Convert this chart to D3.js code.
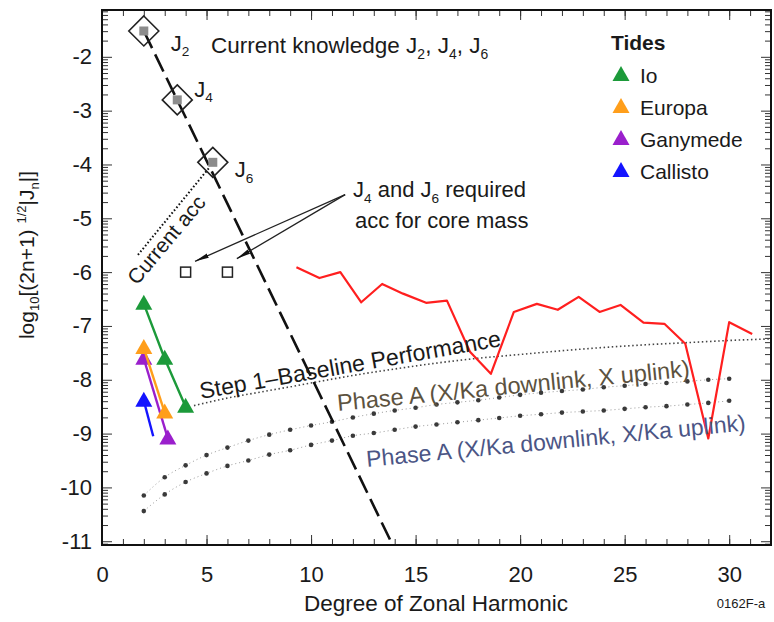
<!DOCTYPE html>
<html>
<head>
<meta charset="utf-8">
<script src="https://cdn.jsdelivr.net/npm/d3@7"></script>
<style>
  html, body { margin: 0; padding: 0; background: #fff; }
  svg { display: block; }
  text { font-family: "Liberation Sans", Arial, sans-serif; fill: #1a1a1a; }
</style>
</head>
<body>
<svg id="chart" width="774" height="622"></svg>
<script>
// ---- data -------------------------------------------------------------
const xTicks = [0, 5, 10, 15, 20, 25, 30];
const yTicks = [-2, -3, -4, -5, -6, -7, -8, -9, -10, -11];

// current knowledge of the low zonal harmonics
const jLabels = ["2", "4", "6"];
const jDegree = [2, 3.6, 5.3];
const jValue = [-1.52, -2.8, -3.96];

// J4, J6 accuracy required for the core mass
const reqDegree = [4, 6];
const reqValue = [-6, -6];

// Jupiter zonal spectrum trend (dashed) and current accuracy (dotted)
const trendDegree = [2, 13.9];
const trendValue = [-1.52, -11.07];
const accDegree = [1.72, 5.17];
const accValue = [-5.68, -4.04];

// tidal signatures
const tideMoons = ["Io", "Europa", "Ganymede", "Callisto"];
const tideColors = ["#1c9a3a", "#ff9e1b", "#9a1fcc", "#1414ff"];
const ioDegree = [2, 3, 4];
const ioValue = [-6.59, -7.61, -8.5];
const europaDegree = [2, 3];
const europaValue = [-7.41, -8.61];
const ganymedeDegree = [2, 3.15];
const ganymedeValue = [-7.61, -9.09];
const callistoDegree = [2, 2.45];
const callistoValue = [-8.39, -9.05];
const callistoMarked = [true, false];

// Step 1 baseline performance
const baseDegree = [4.4, 6, 8, 10, 12, 14, 16, 18, 20, 22, 24, 26, 28, 30, 32];
const baseValue = [-8.48, -8.34, -8.2, -8.06, -7.92, -7.8, -7.69, -7.6, -7.53, -7.46, -7.4, -7.35, -7.31, -7.27, -7.24];

// Phase A sensitivities, degrees 2..30
const phaseDegree = d3.range(2, 31);
const phaseXValue = [-10.15, -9.81, -9.59, -9.4, -9.26, -9.13, -9.02, -8.93, -8.85, -8.78, -8.7, -8.63, -8.57, -8.52,
  -8.46, -8.42, -8.38, -8.33, -8.28, -8.24, -8.21, -8.18, -8.14, -8.11, -8.08, -8.06, -8.03, -8.0, -7.98];
const phaseKaValue = [-10.44, -10.13, -9.9, -9.74, -9.6, -9.5, -9.39, -9.31, -9.21, -9.13, -9.04, -8.99, -8.93, -8.87,
  -8.83, -8.79, -8.75, -8.71, -8.67, -8.64, -8.61, -8.59, -8.57, -8.54, -8.51, -8.49, -8.46, -8.43, -8.39];

// observed spectrum (red)
const obsDegree = [9.3, 10.4, 11.4, 12.4, 13.4, 14.4, 15.5, 16.5, 17.6, 18.6, 19.7, 20.8, 21.8, 22.8, 23.8, 24.8, 25.9, 26.9, 27.9, 29.0, 30.0, 31.1];
const obsValue = [-5.91, -6.11, -6.0, -6.56, -6.22, -6.4, -6.57, -6.53, -7.48, -7.89, -6.74, -6.59, -6.7, -6.46, -6.74, -6.61, -6.94, -6.96, -7.33, -9.09, -6.93, -7.15];

// ---- layout -------------------------------------------------------------
const svg = d3.select("#chart");
const pLeft = 102, pRight = 771, pTop = 10, pBottom = 545;
const x = d3.scaleLinear().domain([0, 32]).range([pLeft, pRight]);
const y = d3.scaleLinear().domain([-11.07, -1.13]).range([pBottom, pTop]);
const zip = (a, b) => a.map((v, i) => [v, b[i]]);
const line = d3.line().x(d => x(d[0])).y(d => y(d[1]));
const curve = d3.line().x(d => x(d[0])).y(d => y(d[1])).curve(d3.curveMonotoneX);

const defs = svg.append("defs");
defs.append("clipPath").attr("id", "plot")
  .append("rect").attr("x", pLeft).attr("y", pTop).attr("width", pRight - pLeft).attr("height", pBottom - pTop);

defs.append("marker")
  .attr("id", "arrow").attr("viewBox", "0 0 14 6").attr("refX", 14).attr("refY", 3)
  .attr("markerWidth", 14).attr("markerHeight", 6).attr("markerUnits", "userSpaceOnUse")
  .attr("orient", "auto")
  .append("path").attr("d", "M0,0.6 L14,3 L0,5.4 Z").attr("fill", "#111");

// ---- axes ---------------------------------------------------------------
const xMinor = d3.range(0, 33);
const yMinor = [];
for (let n = -12; n <= -1; n++) for (let k = 2; k <= 9; k++) {
  const v = n + Math.log10(k);
  if (v > -11.07 && v < -1.13) yMinor.push(v);
}

const axes = svg.append("g");
axes.append("g").attr("transform", `translate(0,${pBottom})`)
  .call(d3.axisBottom(x).tickValues(xTicks).tickSize(-10).tickPadding(21).tickFormat(d3.format("d")));
axes.append("g").attr("transform", `translate(0,${pBottom})`)
  .call(d3.axisBottom(x).tickValues(xMinor).tickSize(-6).tickFormat(""));
axes.append("g").attr("transform", `translate(0,${pTop})`)
  .call(d3.axisTop(x).tickValues(xTicks).tickSize(-10).tickFormat(""));
axes.append("g").attr("transform", `translate(0,${pTop})`)
  .call(d3.axisTop(x).tickValues(xMinor).tickSize(-6).tickFormat(""));
const yLeft = axes.append("g").attr("transform", `translate(${pLeft},0)`)
  .call(d3.axisLeft(y).tickValues(yTicks).tickSize(-10).tickPadding(10).tickFormat(d => d));
axes.append("g").attr("transform", `translate(${pLeft},0)`)
  .call(d3.axisLeft(y).tickValues(yMinor).tickSize(-6).tickFormat(""));
axes.append("g").attr("transform", `translate(${pRight},0)`)
  .call(d3.axisRight(y).tickValues(yTicks).tickSize(-10).tickFormat(""));
axes.append("g").attr("transform", `translate(${pRight},0)`)
  .call(d3.axisRight(y).tickValues(yMinor).tickSize(-6).tickFormat(""));

axes.selectAll(".domain").remove();
axes.selectAll(".tick line").attr("stroke", "#333").attr("stroke-width", 1);
axes.selectAll(".tick text").attr("font-size", 22).attr("fill", "#1a1a1a")
  .attr("font-family", "Liberation Sans, Arial, sans-serif");
yLeft.selectAll(".tick text").text(d => "-" + Math.abs(d));

svg.append("rect").attr("x", pLeft).attr("y", pTop).attr("width", pRight - pLeft).attr("height", pBottom - pTop)
  .attr("fill", "none").attr("stroke", "#111").attr("stroke-width", 2);

// ---- text helper: plain runs and subscripts / superscripts -----------------
function richText(sel, parts, size) {
  let shift = 0;
  parts.forEach(p => {
    const ts = sel.append("tspan");
    let target = 0, fs = size;
    if (p.sub !== undefined) { target = size * 0.25; fs = size * 0.62; ts.text(p.sub); }
    else if (p.sup !== undefined) { target = -size * 0.4; fs = size * 0.62; ts.text(p.sup); }
    else ts.text(p.t);
    ts.attr("font-size", fs);
    if (target !== shift) ts.attr("dy", target - shift);
    shift = target;
  });
  return sel;
}

// axis titles
svg.append("text").attr("x", 436).attr("y", 611).attr("text-anchor", "middle").attr("font-size", 22.5)
  .text("Degree of Zonal Harmonic");
svg.append("text").attr("x", 741).attr("y", 608).attr("text-anchor", "middle").attr("font-size", 13)
  .text("0162F-a");

richText(svg.append("text").attr("transform", "translate(34,255) rotate(-90)").attr("text-anchor", "middle"),
  [{ t: "log" }, { sub: "10" }, { t: "[(2n+1) " }, { sup: "1/2" }, { t: "|J" }, { sub: "n" }, { t: "|]" }], 21);

// ---- plot contents --------------------------------------------------------
const plot = svg.append("g").attr("clip-path", "url(#plot)");

// Phase A curves: faint connecting line plus dots at each degree
[phaseXValue, phaseKaValue].forEach(vals => {
  const pts = zip(phaseDegree, vals);
  plot.append("path").attr("d", curve(pts)).attr("fill", "none")
    .attr("stroke", "#9a9a9a").attr("stroke-width", 1).attr("stroke-dasharray", "1,3");
  plot.append("g").selectAll("circle").data(pts).join("circle")
    .attr("cx", d => x(d[0])).attr("cy", d => y(d[1])).attr("r", 2.3).attr("fill", "#3a3a3a");
});

// Step 1 baseline
plot.append("path").attr("d", curve(zip(baseDegree, baseValue))).attr("fill", "none")
  .attr("stroke", "#444").attr("stroke-width", 1.6).attr("stroke-dasharray", "1.5,2.6");

// observed spectrum
plot.append("path").attr("d", line(zip(obsDegree, obsValue))).attr("fill", "none")
  .attr("stroke", "#ff1f1f").attr("stroke-width", 2.2).attr("stroke-linejoin", "round");

// current accuracy (dotted)
plot.append("path").attr("d", line(zip(accDegree, accValue))).attr("fill", "none")
  .attr("stroke", "#111").attr("stroke-width", 2).attr("stroke-dasharray", "1.6,2.2");

// dashed trend through J2, J4, J6
plot.append("path").attr("d", line(zip(trendDegree, trendValue))).attr("fill", "none")
  .attr("stroke", "#111").attr("stroke-width", 2.6).attr("stroke-dasharray", "19,7");

// J markers: open diamond with grey core
const jG = plot.append("g").selectAll("g").data(zip(jDegree, jValue)).join("g")
  .attr("transform", d => `translate(${x(d[0])},${y(d[1])})`);
jG.append("rect").attr("x", -4.5).attr("y", -4.5).attr("width", 9).attr("height", 9).attr("fill", "#8c8c8c");
jG.append("path").attr("d", "M0,-15 L15,0 L0,15 L-15,0 Z").attr("fill", "none")
  .attr("stroke", "#222").attr("stroke-width", 1.6);

// required accuracy squares
plot.append("g").selectAll("rect").data(zip(reqDegree, reqValue)).join("rect")
  .attr("x", d => x(d[0]) - 5).attr("y", d => y(d[1]) - 5).attr("width", 10).attr("height", 10)
  .attr("fill", "#fff").attr("stroke", "#222").attr("stroke-width", 1.5);

// tides
const tri = "M0,-9 L8.5,6 L-8.5,6 Z";
const tideSets = [
  { deg: callistoDegree, val: callistoValue, col: tideColors[3], mark: callistoMarked },
  { deg: ganymedeDegree, val: ganymedeValue, col: tideColors[2] },
  { deg: europaDegree, val: europaValue, col: tideColors[1] },
  { deg: ioDegree, val: ioValue, col: tideColors[0] }
];
tideSets.forEach(s => {
  const pts = zip(s.deg, s.val);
  plot.append("path").attr("d", line(pts)).attr("fill", "none").attr("stroke", s.col).attr("stroke-width", 2.4);
  plot.append("g").selectAll("path").data(pts.filter((p, i) => !s.mark || s.mark[i])).join("path")
    .attr("d", tri).attr("fill", s.col)
    .attr("transform", d => `translate(${x(d[0])},${y(d[1])})`);
});

// arrows to the required-accuracy squares
const arrowFrom = [11.63, -4.56];
[[4.45, -5.8], [6.45, -5.75]].forEach(t => {
  svg.append("line").attr("x1", x(arrowFrom[0])).attr("y1", y(arrowFrom[1]))
    .attr("x2", x(t[0])).attr("y2", y(t[1]))
    .attr("stroke", "#222").attr("stroke-width", 1.3).attr("marker-end", "url(#arrow)");
});

// ---- annotations -----------------------------------------------------------
// J labels sit beside each diamond
const jLabelShift = [[27, 20], [17, -3], [22, 15]];
jLabels.forEach((l, i) => {
  richText(svg.append("text").attr("x", x(jDegree[i]) + jLabelShift[i][0]).attr("y", y(jValue[i]) + jLabelShift[i][1]),
    [{ t: "J" }, { sub: l }], 22);
});

richText(svg.append("text").attr("x", 211).attr("y", 53),
  [{ t: "Current knowledge J" }, { sub: "2" }, { t: ", J" }, { sub: "4" }, { t: ", J" }, { sub: "6" }], 22.5);

richText(svg.append("text").attr("x", 353).attr("y", 197),
  [{ t: "J" }, { sub: "4" }, { t: " and J" }, { sub: "6" }, { t: " required" }], 22);
svg.append("text").attr("x", 355).attr("y", 228).attr("font-size", 22).text("acc for core mass");

svg.append("text").attr("transform", `translate(137,286) rotate(-50)`).attr("font-size", 21).text("Current acc");

svg.append("text").attr("transform", `translate(201,399) rotate(-10)`).attr("font-size", 23)
  .text("Step 1\u2013Baseline Performance");
svg.append("text").attr("transform", `translate(338,411) rotate(-5.6)`).attr("font-size", 23.5)
  .style("fill", "#5c5240").text("Phase A (X/Ka downlink, X uplink)");
svg.append("text").attr("transform", `translate(367,467) rotate(-5.5)`).attr("font-size", 23)
  .style("fill", "#4b5585").text("Phase A (X/Ka downlink, X/Ka uplink)");

// legend
const legend = svg.append("g");
legend.append("text").attr("x", 611).attr("y", 50).attr("font-size", 21).attr("font-weight", "bold").text("Tides");
tideMoons.forEach((m, i) => {
  const cy = 75 + i * 32;
  legend.append("path").attr("d", tri).attr("fill", tideColors[i]).attr("transform", `translate(621,${cy})`);
  legend.append("text").attr("x", 640).attr("y", cy + 8).attr("font-size", 21).text(m);
});
</script>
</body>
</html>
